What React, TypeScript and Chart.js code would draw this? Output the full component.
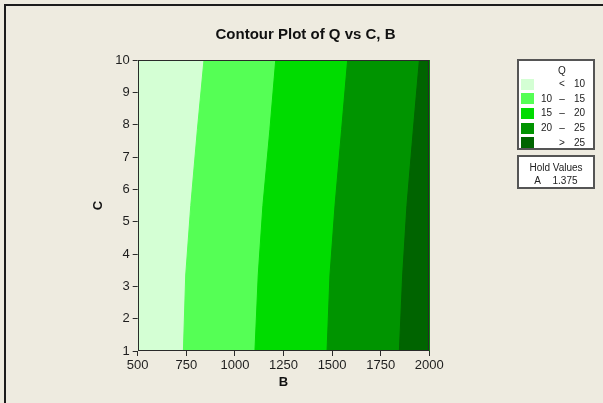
import React, { useEffect, useRef } from 'react';
import { Chart, registerables } from 'chart.js';

Chart.register(...registerables);

// ---- data ----
const cLevels = [1, 3.35, 5.5, 7.85, 10];
const bBound10 = [735, 747, 773, 807, 841];
const bBound15 = [1103, 1120, 1144, 1180, 1210];
const bBound20 = [1474, 1489, 1515, 1549, 1580];
const bBound25 = [1846, 1863, 1885, 1918, 1949];
const bRange = [500, 2000];
const cRange = [1, 10];
const xTickValues = [500, 750, 1000, 1250, 1500, 1750, 2000];
const yTickValues = [1, 2, 3, 4, 5, 6, 7, 8, 9, 10];
const bandNames = ['< 10', '10 – 15', '15 – 20', '20 – 25', '> 25'];
const legendLow = ['', '10', '15', '20', ''];
const legendSym = ['<', '–', '–', '–', '>'];
const legendHigh = ['10', '15', '20', '25', '25'];
const bandColors = ['#D4FFD4', '#55FF55', '#00DC00', '#009400', '#006400'];
const holdFactor = 'A';
const holdValue = '1.375';

const FONT = "'Liberation Sans', Arial, sans-serif";

const framePlugin = {
  id: 'frame',
  afterDatasetsDraw(chart: any) {
    const { ctx, chartArea } = chart;
    const l = Math.round(chartArea.left) + 0.5;
    const t = Math.round(chartArea.top) + 0.5;
    const r = Math.round(chartArea.right) - 0.5;
    const b = Math.round(chartArea.bottom) - 0.5;
    ctx.save();
    ctx.strokeStyle = '#2a2a2a';
    ctx.lineWidth = 1;
    ctx.strokeRect(l, t, r - l, b - t);
    ctx.restore();
  },
};

export default function App() {
  const ref = useRef<HTMLCanvasElement>(null);

  useEffect(() => {
    const canvas = ref.current;
    if (!canvas) return;
    const bounds = [bBound10, bBound15, bBound20, bBound25];
    const datasets = bandColors.map((color, k) => {
      const left =
        k === 0
          ? cLevels.map((c) => ({ x: bRange[0], y: c }))
          : cLevels.map((c, i) => ({ x: bounds[k - 1][i], y: c }));
      const data = [...left, { x: bRange[1], y: cRange[1] }, { x: bRange[1], y: cRange[0] }];
      return {
        label: bandNames[k],
        data,
        order: bandColors.length - k,
        backgroundColor: color,
        borderColor: color,
        borderWidth: 1,
        pointRadius: 0,
        fill: 'shape',
        tension: 0,
        showLine: true,
      };
    });

    const chart = new Chart(canvas, {
      type: 'line',
      data: { datasets } as any,
      options: {
        animation: false,
        responsive: false,
        devicePixelRatio: 1,
        events: [],
        layout: { padding: { left: 87.7, right: 173.7, top: 60, bottom: 12 } },
        plugins: {
          legend: { display: false },
          tooltip: { enabled: false },
          title: { display: false },
        },
        scales: {
          x: {
            type: 'linear',
            min: bRange[0],
            max: bRange[1],
            afterFit: (s: any) => {
              s.height = 40;
            },
            afterBuildTicks: (s: any) => {
              s.ticks = xTickValues.map((v) => ({ value: v }));
            },
            ticks: {
              callback: (v: any) => String(v),
              font: { family: FONT, size: 13 },
              color: '#1e1e1e',
              padding: 2,
              maxRotation: 0,
              autoSkip: false,
            },
            grid: { drawOnChartArea: false, tickLength: 5, color: '#2a2a2a' },
            border: { display: false },
            title: {
              display: true,
              text: 'B',
              font: { family: FONT, size: 13, weight: 'bold' },
              color: '#111',
              padding: { top: 0, bottom: 1 },
            },
          },
          y: {
            type: 'linear',
            min: cRange[0],
            max: cRange[1],
            afterFit: (s: any) => {
              s.width = 50;
            },
            afterBuildTicks: (s: any) => {
              s.ticks = yTickValues.map((v) => ({ value: v }));
            },
            ticks: {
              callback: (v: any) => String(v),
              font: { family: FONT, size: 13 },
              color: '#1e1e1e',
              padding: 3,
              autoSkip: false,
            },
            grid: { drawOnChartArea: false, tickLength: 5, color: '#2a2a2a' },
            border: { display: false },
            title: {
              display: true,
              text: 'C',
              font: { family: FONT, size: 13, weight: 'bold' },
              color: '#111',
              padding: { top: 3, bottom: 0 },
            },
          },
        },
      } as any,
      plugins: [framePlugin],
    });
    return () => chart.destroy();
  }, []);

  const rowTop = (i: number) => 84 + i * 14.67;
  const txt: React.CSSProperties = {
    position: 'absolute',
    fontFamily: FONT,
    fontSize: 10,
    lineHeight: '12px',
    color: '#222',
    whiteSpace: 'nowrap',
  };

  return (
    <div
      style={{
        position: 'fixed',
        left: 0,
        top: 0,
        width: 603,
        height: 403,
        background: '#EEEBE0',
        overflow: 'hidden',
      }}
    >
      <div
        style={{
          position: 'absolute',
          left: 4,
          top: 4,
          width: 700,
          height: 500,
          borderTop: '2px solid #1c1c1c',
          borderLeft: '2px solid #1c1c1c',
        }}
      />
      <canvas ref={ref} width={603} height={403} style={{ position: 'absolute', left: 0, top: 0, display: 'block' }} />
      <div
        style={{
          position: 'absolute',
          left: 0,
          width: 611,
          top: 25,
          textAlign: 'center',
          fontFamily: FONT,
          fontWeight: 'bold',
          fontSize: 15,
          lineHeight: '17px',
          color: '#111',
        }}
      >
        Contour Plot of Q vs C, B
      </div>

      {/* legend box */}
      <div
        style={{
          position: 'absolute',
          left: 517,
          top: 59,
          width: 78,
          height: 91,
          boxSizing: 'border-box',
          background: '#fff',
          border: '2px solid #555',
        }}
      />
      <div style={{ ...txt, left: 542, width: 40, textAlign: 'center', top: 65 }}>Q</div>
      {bandColors.map((c, i) => (
        <React.Fragment key={i}>
          <div
            style={{
              position: 'absolute',
              left: 521,
              top: rowTop(i) - 5.5,
              width: 13,
              height: 11,
              background: c,
            }}
          />
          <div style={{ ...txt, left: 532, width: 20, textAlign: 'right', top: rowTop(i) - 6 }}>{legendLow[i]}</div>
          <div style={{ ...txt, left: 552, width: 20, textAlign: 'center', top: rowTop(i) - 6 }}>{legendSym[i]}</div>
          <div style={{ ...txt, left: 565, width: 20, textAlign: 'right', top: rowTop(i) - 6 }}>{legendHigh[i]}</div>
        </React.Fragment>
      ))}

      {/* hold values box */}
      <div
        style={{
          position: 'absolute',
          left: 517,
          top: 155,
          width: 78,
          height: 34,
          boxSizing: 'border-box',
          background: '#fff',
          border: '2px solid #555',
        }}
      />
      <div style={{ ...txt, left: 517, width: 78, textAlign: 'center', top: 162 }}>Hold Values</div>
      <div style={{ ...txt, left: 533, width: 9, textAlign: 'center', top: 174.5 }}>{holdFactor}</div>
      <div style={{ ...txt, left: 552.5, top: 174.5 }}>{holdValue}</div>
    </div>
  );
}
